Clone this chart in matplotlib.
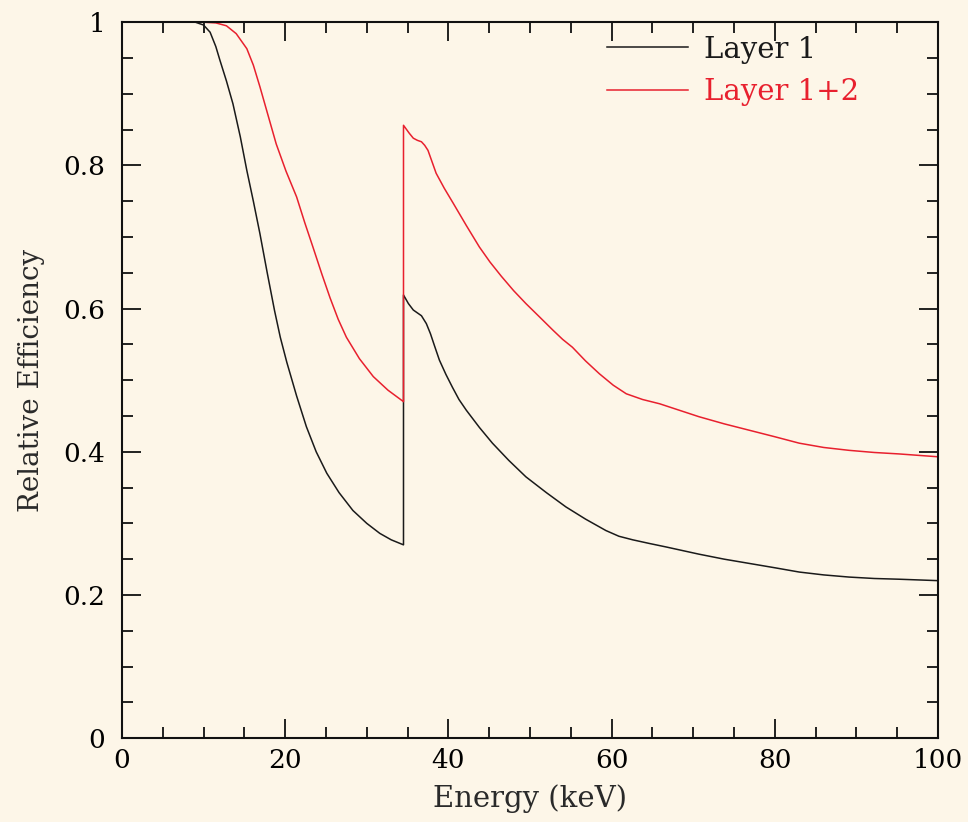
import numpy as np
import matplotlib
matplotlib.use("Agg")
import matplotlib.pyplot as plt

# Layer 1 efficiency vs energy (Xe K-edge near 34.5 keV)
e_layer1 = [1.8, 5, 9.0, 10.0, 10.8, 11.5, 12.0, 12.8, 13.6, 14.5, 15.3, 16.1, 16.9, 17.8, 18.7, 19.4,
            20.2, 21.4, 22.6, 23.8, 25.1, 26.6, 28.3, 30.0, 31.6, 33.0, 34.5,
            34.5, 35.1, 35.7, 36.2, 36.7, 37.3, 37.8, 38.3, 38.9, 39.7, 40.5, 41.3, 42.2, 43.8,
            45.4, 47.4, 49.5, 52.0, 54.4, 56.8, 59.3, 60.9, 62.6, 64.6, 66.7, 68.7, 70.7, 73.8,
            76.9, 80.0, 83.0, 86.0, 89.1, 92.2, 95.2, 100]
v_layer1 = [1.0, 1.0, 1.0, 0.996, 0.986, 0.966, 0.947, 0.918, 0.886, 0.84, 0.793, 0.75, 0.705, 0.65, 0.597, 0.56,
            0.525, 0.478, 0.435, 0.4, 0.37, 0.343, 0.318, 0.3, 0.286, 0.277, 0.27,
            0.619, 0.607, 0.598, 0.594, 0.59, 0.579, 0.565, 0.548, 0.528, 0.508, 0.49, 0.473, 0.458, 0.434,
            0.412, 0.388, 0.365, 0.343, 0.323, 0.306, 0.29, 0.282, 0.277, 0.272, 0.267, 0.262, 0.257, 0.25,
            0.244, 0.238, 0.232, 0.228, 0.225, 0.223, 0.222, 0.22]

# Layer 1+2
e_layer12 = [1.8, 5, 10, 11.5, 12.8, 14.0, 15.3, 16.1, 16.9, 17.9, 18.9, 20.1, 21.4, 22.4, 23.4, 24.5,
             25.5, 26.5, 27.5, 29.1, 30.8, 32.6, 34.5,
             34.5, 35.2, 35.7, 36.2, 36.7, 37.1, 37.5, 38.0, 38.5, 39.5, 40.6, 42.2, 43.8, 45.1,
             46.5, 48.0, 49.5, 51.2, 52.8, 54.0, 55.2, 56.8, 58.5, 60.2, 61.8, 63.8, 65.9, 68.3,
             70.7, 73.8, 76.9, 80.0, 83.0, 86.0, 89.1, 92.2, 95.2, 100]
v_layer12 = [1.0, 1.0, 1.0, 0.999, 0.995, 0.984, 0.963, 0.94, 0.91, 0.87, 0.83, 0.792, 0.756, 0.72, 0.686, 0.648,
             0.615, 0.585, 0.56, 0.53, 0.505, 0.486, 0.47,
             0.856, 0.845, 0.838, 0.835, 0.833, 0.828, 0.821, 0.805, 0.789, 0.768, 0.747, 0.716, 0.686, 0.665,
             0.645, 0.625, 0.607, 0.588, 0.57, 0.557, 0.546, 0.527, 0.509, 0.493, 0.481, 0.473, 0.467, 0.458,
             0.449, 0.439, 0.43, 0.421, 0.412, 0.406, 0.402, 0.399, 0.397, 0.393]

labels = ["Layer 1", "Layer 1+2"]
bg = "#fdf6e8"
red = "#e8202e"
black = "#1a1a1a"

plt.rcParams["font.family"] = "DejaVu Serif"
plt.rcParams["font.size"] = 19

fig = plt.figure(figsize=(9.68, 8.22), dpi=100, facecolor=bg)
ax = fig.add_axes([0.126, 0.102, 0.843, 0.871], facecolor=bg)

ax.plot(e_layer1, v_layer1, color=black, lw=1.1, label=labels[0])
ax.plot(e_layer12, v_layer12, color=red, lw=1.1, label=labels[1])

ax.set_xlim(0, 100)
ax.set_ylim(0, 1)
ax.set_xticks(np.arange(0, 101, 20))
ax.set_xticks(np.arange(0, 101, 5), minor=True)
ax.set_yticks([0, 0.2, 0.4, 0.6, 0.8, 1])
ax.set_yticklabels(["0", "0.2", "0.4", "0.6", "0.8", "1"])
ax.set_yticks(np.arange(0, 1.001, 0.05), minor=True)
ax.tick_params(which="both", direction="in", top=True, right=True, width=1.3, color="#111111")
ax.tick_params(which="major", length=14)
ax.tick_params(which="minor", length=8)
ax.tick_params(axis="x", pad=7)
ax.tick_params(axis="y", pad=12)
for s in ax.spines.values():
    s.set_linewidth(1.5)
    s.set_color("#111111")

ax.set_xlabel("Energy (keV)", fontsize=21, labelpad=8, color="#2a2a2a")
ax.set_ylabel("Relative Efficiency", fontsize=20, labelpad=13, color="#2a2a2a")

leg = ax.legend(loc="upper right", bbox_to_anchor=(0.935, 1.018), frameon=False, fontsize=21,
                handlelength=2.75, handletextpad=0.55, labelspacing=0.5)
for t, c in zip(leg.get_texts(), [black, red]):
    t.set_color(c)

fig.savefig("out.png", dpi=100, facecolor=bg)
